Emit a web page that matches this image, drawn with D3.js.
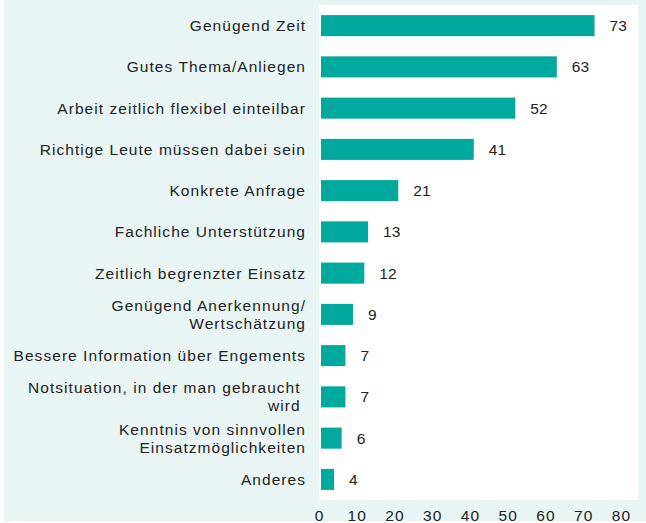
<!DOCTYPE html>
<html><head><meta charset="utf-8">
<script src="https://cdn.jsdelivr.net/npm/d3@7"></script>
<style>body{margin:0;background:#fff}svg{display:block}</style>
</head><body>
<script>
const categories = [
  ["Genügend Zeit"],
  ["Gutes Thema/Anliegen"],
  ["Arbeit zeitlich flexibel einteilbar"],
  ["Richtige Leute müssen dabei sein"],
  ["Konkrete Anfrage"],
  ["Fachliche Unterstützung"],
  ["Zeitlich begrenzter Einsatz"],
  ["Genügend Anerkennung/", "Wertschätzung"],
  ["Bessere Information über Engements"],
  ["Notsituation, in der man gebraucht ", "wird "],
  ["Kenntnis von sinnvollen", "Einsatzmöglichkeiten"],
  ["Anderes"]
];
const values = [73, 63, 52, 41, 21, 13, 12, 9, 7, 7, 6, 4];
const ticks = [0, 10, 20, 30, 40, 50, 60, 70, 80];

const W = 646, H = 523;
const plot = {left: 319, right: 638, top: 5, bottom: 500};
const svg = d3.select("body").append("svg").attr("width", W).attr("height", H);
svg.append("rect").attr("x", 4).attr("y", 0).attr("width", W - 4).attr("height", 521).attr("fill", "#e9f5f5");
svg.append("rect").attr("x", plot.left).attr("y", plot.top)
  .attr("width", plot.right - plot.left).attr("height", plot.bottom - plot.top).attr("fill", "#fff");

const x = d3.scaleLinear().domain([0, 80]).range([plot.left, 621]);
const y = d3.scaleBand().domain(d3.range(categories.length)).range([plot.top, plot.bottom])
  .paddingInner(0.49).paddingOuter(0.245);

const font = "'Liberation Sans', Arial, sans-serif";
const fs = 15.5, ls = "1.05px";
const g = svg.append("g");
g.selectAll("rect.bar").data(values).join("rect").attr("class", "bar")
  .attr("x", x(0) + 2).attr("y", (d, i) => y(i))
  .attr("width", d => x(d) - x(0) - 2).attr("height", y.bandwidth())
  .attr("fill", "#00a99d");

g.selectAll("text.val").data(values).join("text").attr("class", "val")
  .attr("x", d => x(d) + 15).attr("y", (d, i) => y(i) + y.bandwidth() / 2 + 5.5)
  .attr("font-family", font).attr("font-size", fs).attr("fill", "#222")
  .text(d => d);

const lab = g.selectAll("text.cat").data(categories).join("text").attr("class", "cat")
  .attr("text-anchor", "end").attr("font-family", font).attr("font-size", fs)
  .attr("letter-spacing", ls).attr("fill", "#222").style("white-space", "pre");
lab.each(function(lines, i) {
  const t = d3.select(this);
  const cy = y(i) + y.bandwidth() / 2;
  const lh = 18;
  lines.forEach((ln, k) => {
    t.append("tspan").attr("x", 306)
      .attr("y", cy + 5.5 + (k - (lines.length - 1) / 2) * lh)
      .text(ln);
  });
});

const axis = d3.axisBottom(x).tickValues(ticks).tickSize(0).tickPadding(0);
const ag = svg.append("g").attr("transform", `translate(0, 509)`).call(axis);
ag.select(".domain").remove();
ag.selectAll("text").attr("font-family", font).attr("font-size", fs)
  .attr("letter-spacing", ls).attr("fill", "#222").attr("dy", "0.8em");
</script>
</body></html>
